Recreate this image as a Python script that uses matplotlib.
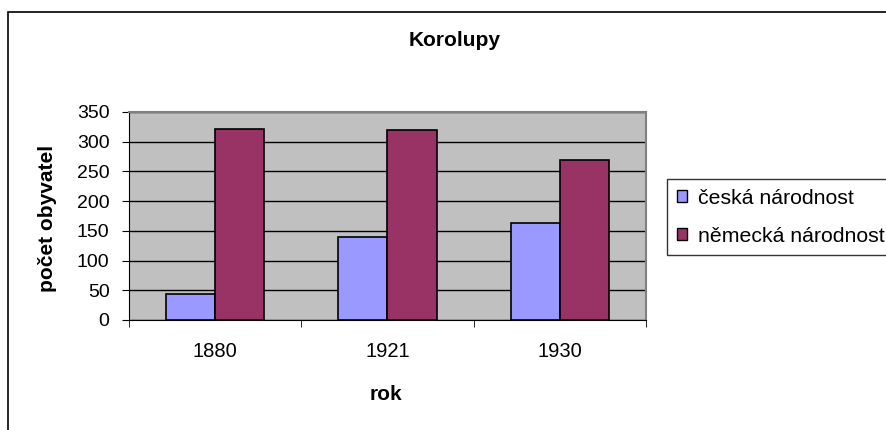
import matplotlib.pyplot as plt
import numpy as np
from matplotlib.patches import Patch, Rectangle

plt.rcParams['font.family'] = ['Liberation Sans', 'DejaVu Sans']

# data
roky = ['1880', '1921', '1930']
ceska = [43, 140, 164]
nemecka = [322, 319, 270]
serie = ['česká národnost', 'německá národnost']
barvy = ['#9999FF', '#993366']

fig = plt.figure(figsize=(8.87, 4.30), dpi=100)

# outer chart border (runs off the right/bottom edge like the original)
fig.patches.append(Rectangle((8 / 887, -0.1), 1.2, 1 - 12 / 430 + 0.1,
                             transform=fig.transFigure, fill=False,
                             edgecolor='black', linewidth=1.2))

ax = fig.add_axes([129 / 887, 1 - 320 / 430, 517 / 887, 208 / 430])
ax.set_facecolor('#C0C0C0')

x = np.arange(len(roky))
w = 1 / 3.5
ax.bar(x - w / 2, ceska, w, color=barvy[0], edgecolor='black', linewidth=1.2, zorder=3)
ax.bar(x + w / 2, nemecka, w, color=barvy[1], edgecolor='black', linewidth=1.2, zorder=3)

ax.set_xlim(-0.5, 2.5)
ax.set_ylim(0, 350)
ax.set_yticks(range(0, 351, 50))
ax.yaxis.grid(True, color='black', linewidth=1, zorder=0)
ax.set_axisbelow(True)

ax.set_xticks(x)
ax.set_xticklabels(roky)
ax.set_xticks([-0.5, 0.5, 1.5, 2.5], minor=True)
ax.tick_params(axis='x', which='major', length=0, pad=16, labelsize=14.5)
ax.tick_params(axis='x', which='minor', length=5, direction='out')
ax.tick_params(axis='y', length=5, direction='out', labelsize=14, pad=9)

for s in ['top', 'right']:
    ax.spines[s].set_color('#808080')
    ax.spines[s].set_linewidth(1.5)
ax.spines['left'].set_color('black')
ax.spines['bottom'].set_color('black')

fig.text(455 / 887, 1 - 41 / 430, 'Korolupy', ha='center', va='center',
         fontsize=15, fontweight='bold')
fig.text(386 / 887, 1 - 394 / 430, 'rok', ha='center', va='center',
         fontsize=15, fontweight='bold')
fig.text(48 / 887, 1 - 218 / 430, 'počet obyvatel', ha='center', va='center',
         rotation=90, fontsize=15, fontweight='bold')

handles = [Patch(facecolor=c, edgecolor='black', linewidth=1) for c in barvy]
leg = fig.legend(handles, serie, loc='upper left',
                 bbox_to_anchor=(667 / 887, 1 - 179 / 430),
                 frameon=True, fancybox=False, fontsize=15.3,
                 handlelength=0.5, handleheight=0.5, handletextpad=0.5,
                 labelspacing=0.9, borderpad=0.45, borderaxespad=0)
leg.get_frame().set_edgecolor('black')
leg.get_frame().set_linewidth(1)

fig.savefig('out.png', dpi=100)
